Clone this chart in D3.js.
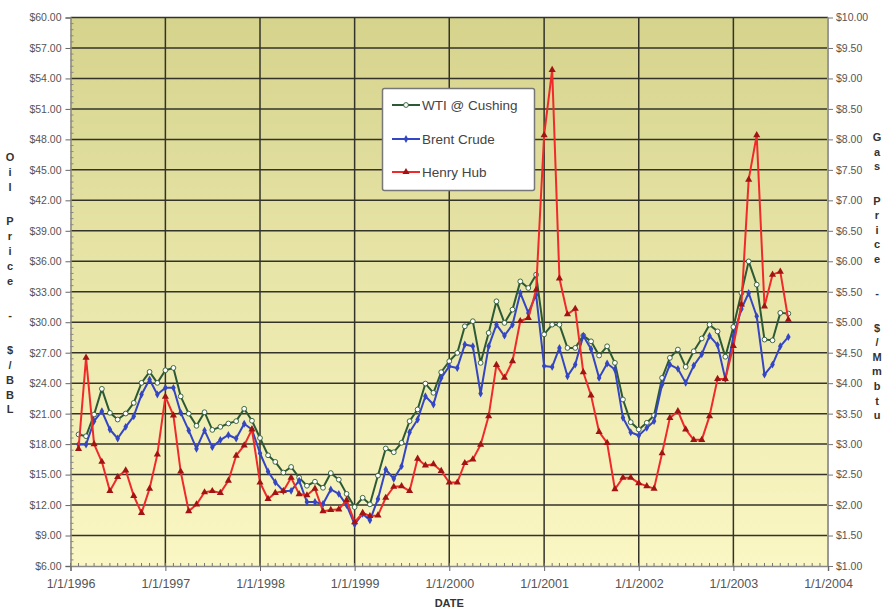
<!DOCTYPE html>
<html>
<head>
<meta charset="utf-8">
<script src="https://cdn.jsdelivr.net/npm/d3@7"></script>
<style>
  body { margin: 0; background: #fff; }
  text { font-family: "Liberation Sans", Arial, sans-serif; }
</style>
</head>
<body>
<svg id="chart" width="886" height="609"></svg>
<script>
// Monthly prices, Feb 1996 – Aug 2003
const wti = [
  18.95, 18.78, 20.91, 23.44, 21.08, 20.42, 21.01, 22.06, 24.03, 25.11, 24.03, 25.27,
  25.50, 22.70, 21.00, 19.80, 21.14, 19.40, 19.70, 20.03, 20.26, 21.48, 20.30, 18.60,
  16.90, 16.25, 15.20, 15.75, 14.70, 13.90, 14.30, 13.70, 15.15, 14.50, 13.10, 11.80,
  12.72, 12.07, 14.90, 17.57, 17.20, 18.13, 20.26, 21.41, 23.96, 23.05, 25.08, 26.16,
  26.98, 29.60, 30.10, 26.00, 28.95, 32.06, 29.93, 31.24, 34.02, 33.37, 34.68, 28.80,
  29.76, 29.76, 27.47, 27.47, 28.68, 28.12, 26.72, 27.63, 26.00, 22.39, 20.16, 19.44,
  20.10, 20.82, 24.52, 26.49, 27.31, 25.60, 27.14, 28.40, 29.76, 29.10, 26.60, 29.53,
  32.88, 35.99, 33.70, 28.29, 28.22, 30.92, 30.85
];
const brent = [
  17.96, 17.96, 20.26, 21.24, 19.44, 18.55, 19.70, 20.75, 22.88, 24.36, 22.88, 23.54,
  23.54, 21.10, 19.35, 17.55, 19.35, 17.70, 18.40, 18.90, 18.55, 20.00, 19.44, 17.10,
  15.30, 14.25, 13.37, 13.40, 14.40, 12.30, 12.30, 12.10, 13.54, 13.10, 12.00, 10.10,
  11.15, 10.50, 12.60, 15.50, 14.59, 15.83, 19.17, 20.42, 22.71, 21.90, 24.52, 25.67,
  25.50, 27.80, 27.63, 22.98, 27.63, 29.76, 28.68, 29.76, 32.88, 30.92, 32.71, 25.70,
  25.60, 27.47, 24.68, 25.83, 28.68, 27.37, 24.52, 25.93, 25.34, 20.59, 19.17, 18.85,
  19.60, 20.26, 23.86, 25.83, 25.41, 24.03, 25.73, 26.85, 28.65, 27.75, 24.40, 28.62,
  31.31, 32.88, 30.59, 24.85, 25.83, 27.63, 28.55
];
// Henry Hub gas, $/MMBtu (right axis)
const henryHub = [
  2.92, 4.42, 3.00, 2.71, 2.23, 2.46, 2.57, 2.15, 1.87, 2.27, 2.83, 3.78,
  3.47, 2.55, 1.90, 2.01, 2.21, 2.23, 2.20, 2.40, 2.81, 2.98, 3.24, 2.37,
  2.10, 2.20, 2.23, 2.45, 2.18, 2.16, 2.27, 1.90, 1.92, 1.93, 2.08, 1.72,
  1.87, 1.82, 1.83, 2.12, 2.30, 2.31, 2.23, 2.76, 2.65, 2.67, 2.56, 2.37,
  2.37, 2.69, 2.75, 2.99, 3.46, 4.30, 4.09, 4.36, 5.02, 5.07, 5.53, 8.07,
  9.14, 5.72, 5.13, 5.22, 4.18, 3.80, 3.20, 3.02, 2.26, 2.45, 2.45, 2.36,
  2.31, 2.27, 2.85, 3.43, 3.54, 3.24, 3.07, 3.07, 3.46, 4.07, 4.07, 4.61,
  5.29, 7.34, 8.07, 5.26, 5.78, 5.83, 5.04
];
const seriesNames = ["WTI @ Cushing", "Brent Crude", "Henry Hub"];
const oilTicks = [6, 9, 12, 15, 18, 21, 24, 27, 30, 33, 36, 39, 42, 45, 48, 51, 54, 57, 60];
const gasTicks = [1, 1.5, 2, 2.5, 3, 3.5, 4, 4.5, 5, 5.5, 6, 6.5, 7, 7.5, 8, 8.5, 9, 9.5, 10];
const yearTicks = [1996, 1997, 1998, 1999, 2000, 2001, 2002, 2003, 2004];
const leftTitle = "Oil Price - $/BBL";
const rightTitle = "Gas Price - $/Mmbtu";
const xTitle = "DATE";

const months = d3.timeMonth.range(new Date(1996, 1, 1), new Date(1996, 1 + wti.length, 1));

const svg = d3.select("#chart");
const L = 70.5, R = 828, T = 17.5, B = 566;

const x = d3.scaleTime().domain([new Date(1996, 0, 1), new Date(2004, 0, 1)]).range([L, R]);
const yOil = d3.scaleLinear().domain([6, 60]).range([B, T]);
const yGas = d3.scaleLinear().domain([1, 10]).range([B, T]);

// plot background gradient
const defs = svg.append("defs");
const grad = defs.append("linearGradient").attr("id", "bg").attr("x1", 0).attr("y1", 0).attr("x2", 0).attr("y2", 1);
grad.append("stop").attr("offset", "0%").attr("stop-color", "#d5d38c");
grad.append("stop").attr("offset", "55%").attr("stop-color", "#ebe8ad");
grad.append("stop").attr("offset", "100%").attr("stop-color", "#fbf7c4");
svg.append("rect").attr("x", L).attr("y", T).attr("width", R - L).attr("height", B - T).attr("fill", "url(#bg)");

// grid
const grid = svg.append("g");
grid.selectAll("line.h").data(oilTicks.slice(1)).join("line")
  .attr("x1", L).attr("x2", R)
  .attr("y1", d => yOil(d)).attr("y2", d => yOil(d))
  .attr("stroke", "#33332a").attr("stroke-width", 1.5);
grid.selectAll("line.v").data(yearTicks.slice(1, -1)).join("line")
  .attr("x1", d => x(new Date(d, 0, 1))).attr("x2", d => x(new Date(d, 0, 1)))
  .attr("y1", T).attr("y2", B)
  .attr("stroke", "#33332a").attr("stroke-width", 1.5);

// right frame edge
svg.append("line").attr("x1", R).attr("x2", R).attr("y1", T).attr("y2", B).attr("stroke", "#999").attr("stroke-width", 2);

// left axis
const axL = svg.append("g").attr("transform", `translate(${L},0)`)
  .call(d3.axisLeft(yOil).tickValues(oilTicks).tickFormat(d3.format("$.2f")).tickSize(5).tickPadding(4));
axL.select(".domain").attr("stroke", "#888").attr("stroke-width", 1.5);
axL.selectAll(".tick line").attr("stroke", "#666");
axL.selectAll("text").attr("fill", "#555").style("font-size", "10.5px");
const minorOil = d3.range(6, 60.001, 0.6).filter(v => Math.abs(v / 3 - Math.round(v / 3)) > 0.01);
svg.append("g").selectAll("line").data(minorOil).join("line")
  .attr("x1", L).attr("x2", L + 3).attr("y1", d => yOil(d)).attr("y2", d => yOil(d))
  .attr("stroke", "#888").attr("stroke-width", 1);

// right axis
const axR = svg.append("g").attr("transform", `translate(${R},0)`)
  .call(d3.axisRight(yGas).tickValues(gasTicks).tickFormat(d3.format("$.2f")).tickSize(5).tickPadding(3));
axR.select(".domain").remove();
axR.selectAll(".tick line").attr("stroke", "#777");
axR.selectAll("text").attr("fill", "#555").style("font-size", "10.5px");

// bottom axis
const axB = svg.append("g").attr("transform", `translate(0,${B})`)
  .call(d3.axisBottom(x).tickValues(yearTicks.map(y => new Date(y, 0, 1)))
    .tickFormat(d3.timeFormat("%-m/%-d/%Y")).tickSize(5).tickPadding(8));
axB.select(".domain").attr("stroke", "#888").attr("stroke-width", 1.5);
axB.selectAll(".tick line").attr("stroke", "#666");
axB.selectAll("text").attr("fill", "#555").style("font-size", "12.5px");
svg.append("g").selectAll("line").data(d3.timeMonth.range(new Date(1996, 0, 1), new Date(2004, 0, 1)))
  .join("line")
  .attr("x1", d => x(d)).attr("x2", d => x(d)).attr("y1", B).attr("y2", B - 3)
  .attr("stroke", "#777").attr("stroke-width", 1);

// axis titles, one letter per line
function stackedTitle(str, xPos, yStart, step) {
  const t = svg.append("text").attr("text-anchor", "middle")
    .attr("fill", "#333").style("font-size", "11px").style("font-weight", "bold");
  let yy = yStart;
  for (const ch of str) {
    if (ch !== " ") t.append("tspan").attr("x", xPos).attr("y", yy).text(ch);
    yy += ch === " " ? step * 1.35 : step;
  }
}
stackedTitle(leftTitle, 10, 161, 14.8);
stackedTitle(rightTitle, 877, 141, 14.6);
svg.append("text").attr("x", (L + R) / 2).attr("y", 607).attr("text-anchor", "middle")
  .attr("fill", "#333").style("font-size", "11px").style("font-weight", "bold").text(xTitle);

// series
const styles = [
  { color: "#2d5a36", marker: "circle" },
  { color: "#3446c4", marker: "diamond" },
  { color: "#f02a2a", marker: "triangle" }
];
const seriesData = [
  wti.map((v, i) => [months[i], yOil(v)]),
  brent.map((v, i) => [months[i], yOil(v)]),
  henryHub.map((v, i) => [months[i], yGas(v)])
];
const line = d3.line().x(d => x(d[0])).y(d => d[1]);

function drawMarker(g, kind, color) {
  if (kind === "circle") {
    g.append("circle").attr("r", 2.4).attr("fill", "#fff").attr("stroke", color).attr("stroke-width", 0.9);
  } else if (kind === "diamond") {
    g.append("path").attr("d", d3.symbol(d3.symbolDiamond, 18)()).attr("fill", color);
  } else {
    g.append("path").attr("d", d3.symbol(d3.symbolTriangle, 22)()).attr("fill", "#a01414");
  }
}

seriesData.forEach((pts, k) => {
  const st = styles[k];
  svg.append("path").datum(pts).attr("d", line).attr("fill", "none")
    .attr("stroke", st.color).attr("stroke-width", 2).attr("stroke-linejoin", "round");
  const mg = svg.append("g");
  pts.forEach(p => {
    const g = mg.append("g").attr("transform", `translate(${x(p[0])},${p[1]})`);
    drawMarker(g, st.marker, st.color);
  });
});

// legend
const lg = svg.append("g");
lg.append("rect").attr("x", 382.5).attr("y", 88.5).attr("width", 152).attr("height", 102).attr("rx", 2)
  .attr("fill", "#fff").attr("stroke", "#777").attr("stroke-width", 1.5);
const rowsY = [105, 139, 172];
seriesNames.forEach((name, k) => {
  const st = styles[k];
  const y0 = rowsY[k];
  lg.append("line").attr("x1", 392).attr("x2", 420).attr("y1", y0).attr("y2", y0)
    .attr("stroke", st.color).attr("stroke-width", 2);
  const g = lg.append("g").attr("transform", `translate(406,${y0})`);
  drawMarker(g, st.marker, st.color);
  lg.append("text").attr("x", 422).attr("y", y0 + 5).attr("fill", "#444")
    .style("font-size", "13.5px").text(name);
});
</script>
</body>
</html>
